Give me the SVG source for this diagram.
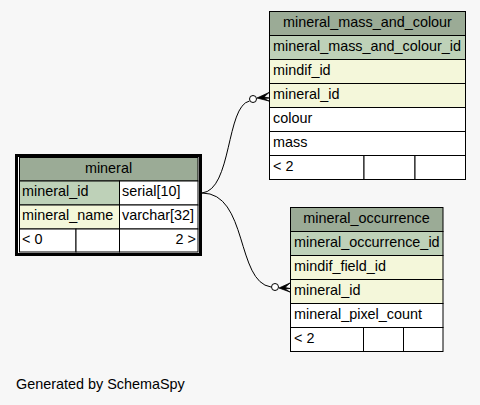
<svg xmlns="http://www.w3.org/2000/svg" width="480" height="405" viewBox="0 0 480 405">
<style>
text{font-family:"Liberation Sans",Arial,sans-serif;font-size:14.4px;fill:#000}
.c{text-anchor:middle}
.r{text-anchor:end}
.h{fill:#9bab96;stroke:#000;stroke-width:1}
.pk{fill:#bed1b8;stroke:#000;stroke-width:1}
.fk{fill:#f4f7da;stroke:#000;stroke-width:1}
.w{fill:#ffffff;stroke:#000;stroke-width:1}
.e{fill:none;stroke:#000;stroke-width:1}
</style>
<rect width="480" height="405" fill="#f7f7f7"/>

<g id="connectors">
  <path class="e" d="M202,193 C232,190 226,106 249.5,101"/>
  <circle cx="253" cy="99" r="3.5" fill="#fff" stroke="#000"/>
  <path d="M257,98 L269,92.5 L264,97 L269,98 L264,98.5 L269,101 Z" fill="#000" stroke="#000" stroke-width="0.8"/>
  <path class="e" d="M202,193 C248,193 236,282 271,287"/>
  <circle cx="275" cy="287" r="3.5" fill="#fff" stroke="#000"/>
  <path d="M279,288 L290,283 L285,287.5 L290,288.5 L285,289 L290,292 Z" fill="#000" stroke="#000" stroke-width="0.8"/>
</g>

<g id="mineral_mass_and_colour">
  <rect class="h" x="269.5" y="11.5" width="196" height="24"/>
  <text class="c" x="367.5" y="26.5">mineral_mass_and_colour</text>
  <rect class="pk" x="269.5" y="35.5" width="196" height="24"/>
  <text x="273" y="50.5">mineral_mass_and_colour_id</text>
  <rect class="fk" x="269.5" y="59.5" width="196" height="24"/>
  <text x="273" y="74.5">mindif_id</text>
  <rect class="fk" x="269.5" y="83.5" width="196" height="24"/>
  <text x="273" y="98.5">mineral_id</text>
  <rect class="w" x="269.5" y="107.5" width="196" height="24"/>
  <text x="273" y="122.5">colour</text>
  <rect class="w" x="269.5" y="131.5" width="196" height="24"/>
  <text x="273" y="146.5">mass</text>
  <rect class="w" x="269.5" y="155.5" width="94.5" height="24"/>
  <rect class="w" x="364" y="155.5" width="51" height="24"/>
  <rect class="w" x="415" y="155.5" width="50.5" height="24"/>
  <text x="273" y="170.5">&lt; 2</text>
</g>

<g id="mineral">
  <rect x="16.5" y="155.5" width="184" height="99" fill="#fff" stroke="#000" stroke-width="3"/>
  <rect class="h" x="19.5" y="157.5" width="178.5" height="23.5"/>
  <text class="c" x="108.5" y="172.5">mineral</text>
  <rect class="pk" x="19.5" y="181" width="100" height="24"/>
  <rect class="w" x="119.5" y="181" width="78.5" height="24"/>
  <text x="22" y="196">mineral_id</text>
  <text x="122" y="196">serial[10]</text>
  <rect class="fk" x="19.5" y="205" width="100" height="24"/>
  <rect class="w" x="119.5" y="205" width="78.5" height="24"/>
  <text x="22" y="220">mineral_name</text>
  <text x="122" y="220">varchar[32]</text>
  <rect class="w" x="19.5" y="229" width="56.5" height="23"/>
  <rect class="w" x="76" y="229" width="43.5" height="23"/>
  <rect class="w" x="119.5" y="229" width="78.5" height="23"/>
  <text x="22" y="243.5">&lt; 0</text>
  <text class="r" x="196" y="243.5">2 &gt;</text>
</g>

<g id="mineral_occurrence">
  <rect class="h" x="290.5" y="207.5" width="152.5" height="24"/>
  <text class="c" x="366.5" y="222.5">mineral_occurrence</text>
  <rect class="pk" x="290.5" y="231.5" width="152.5" height="24"/>
  <text x="294" y="246.5">mineral_occurrence_id</text>
  <rect class="fk" x="290.5" y="255.5" width="152.5" height="24"/>
  <text x="294" y="270.5">mindif_field_id</text>
  <rect class="fk" x="290.5" y="279.5" width="152.5" height="24"/>
  <text x="294" y="294.5">mineral_id</text>
  <rect class="w" x="290.5" y="303.5" width="152.5" height="24"/>
  <text x="294" y="318.5">mineral_pixel_count</text>
  <rect class="w" x="290.5" y="327.5" width="73" height="24"/>
  <rect class="w" x="363.5" y="327.5" width="40" height="24"/>
  <rect class="w" x="403.5" y="327.5" width="39.5" height="24"/>
  <text x="294" y="342.5">&lt; 2</text>
</g>

<text x="16" y="389">Generated by SchemaSpy</text>
</svg>
